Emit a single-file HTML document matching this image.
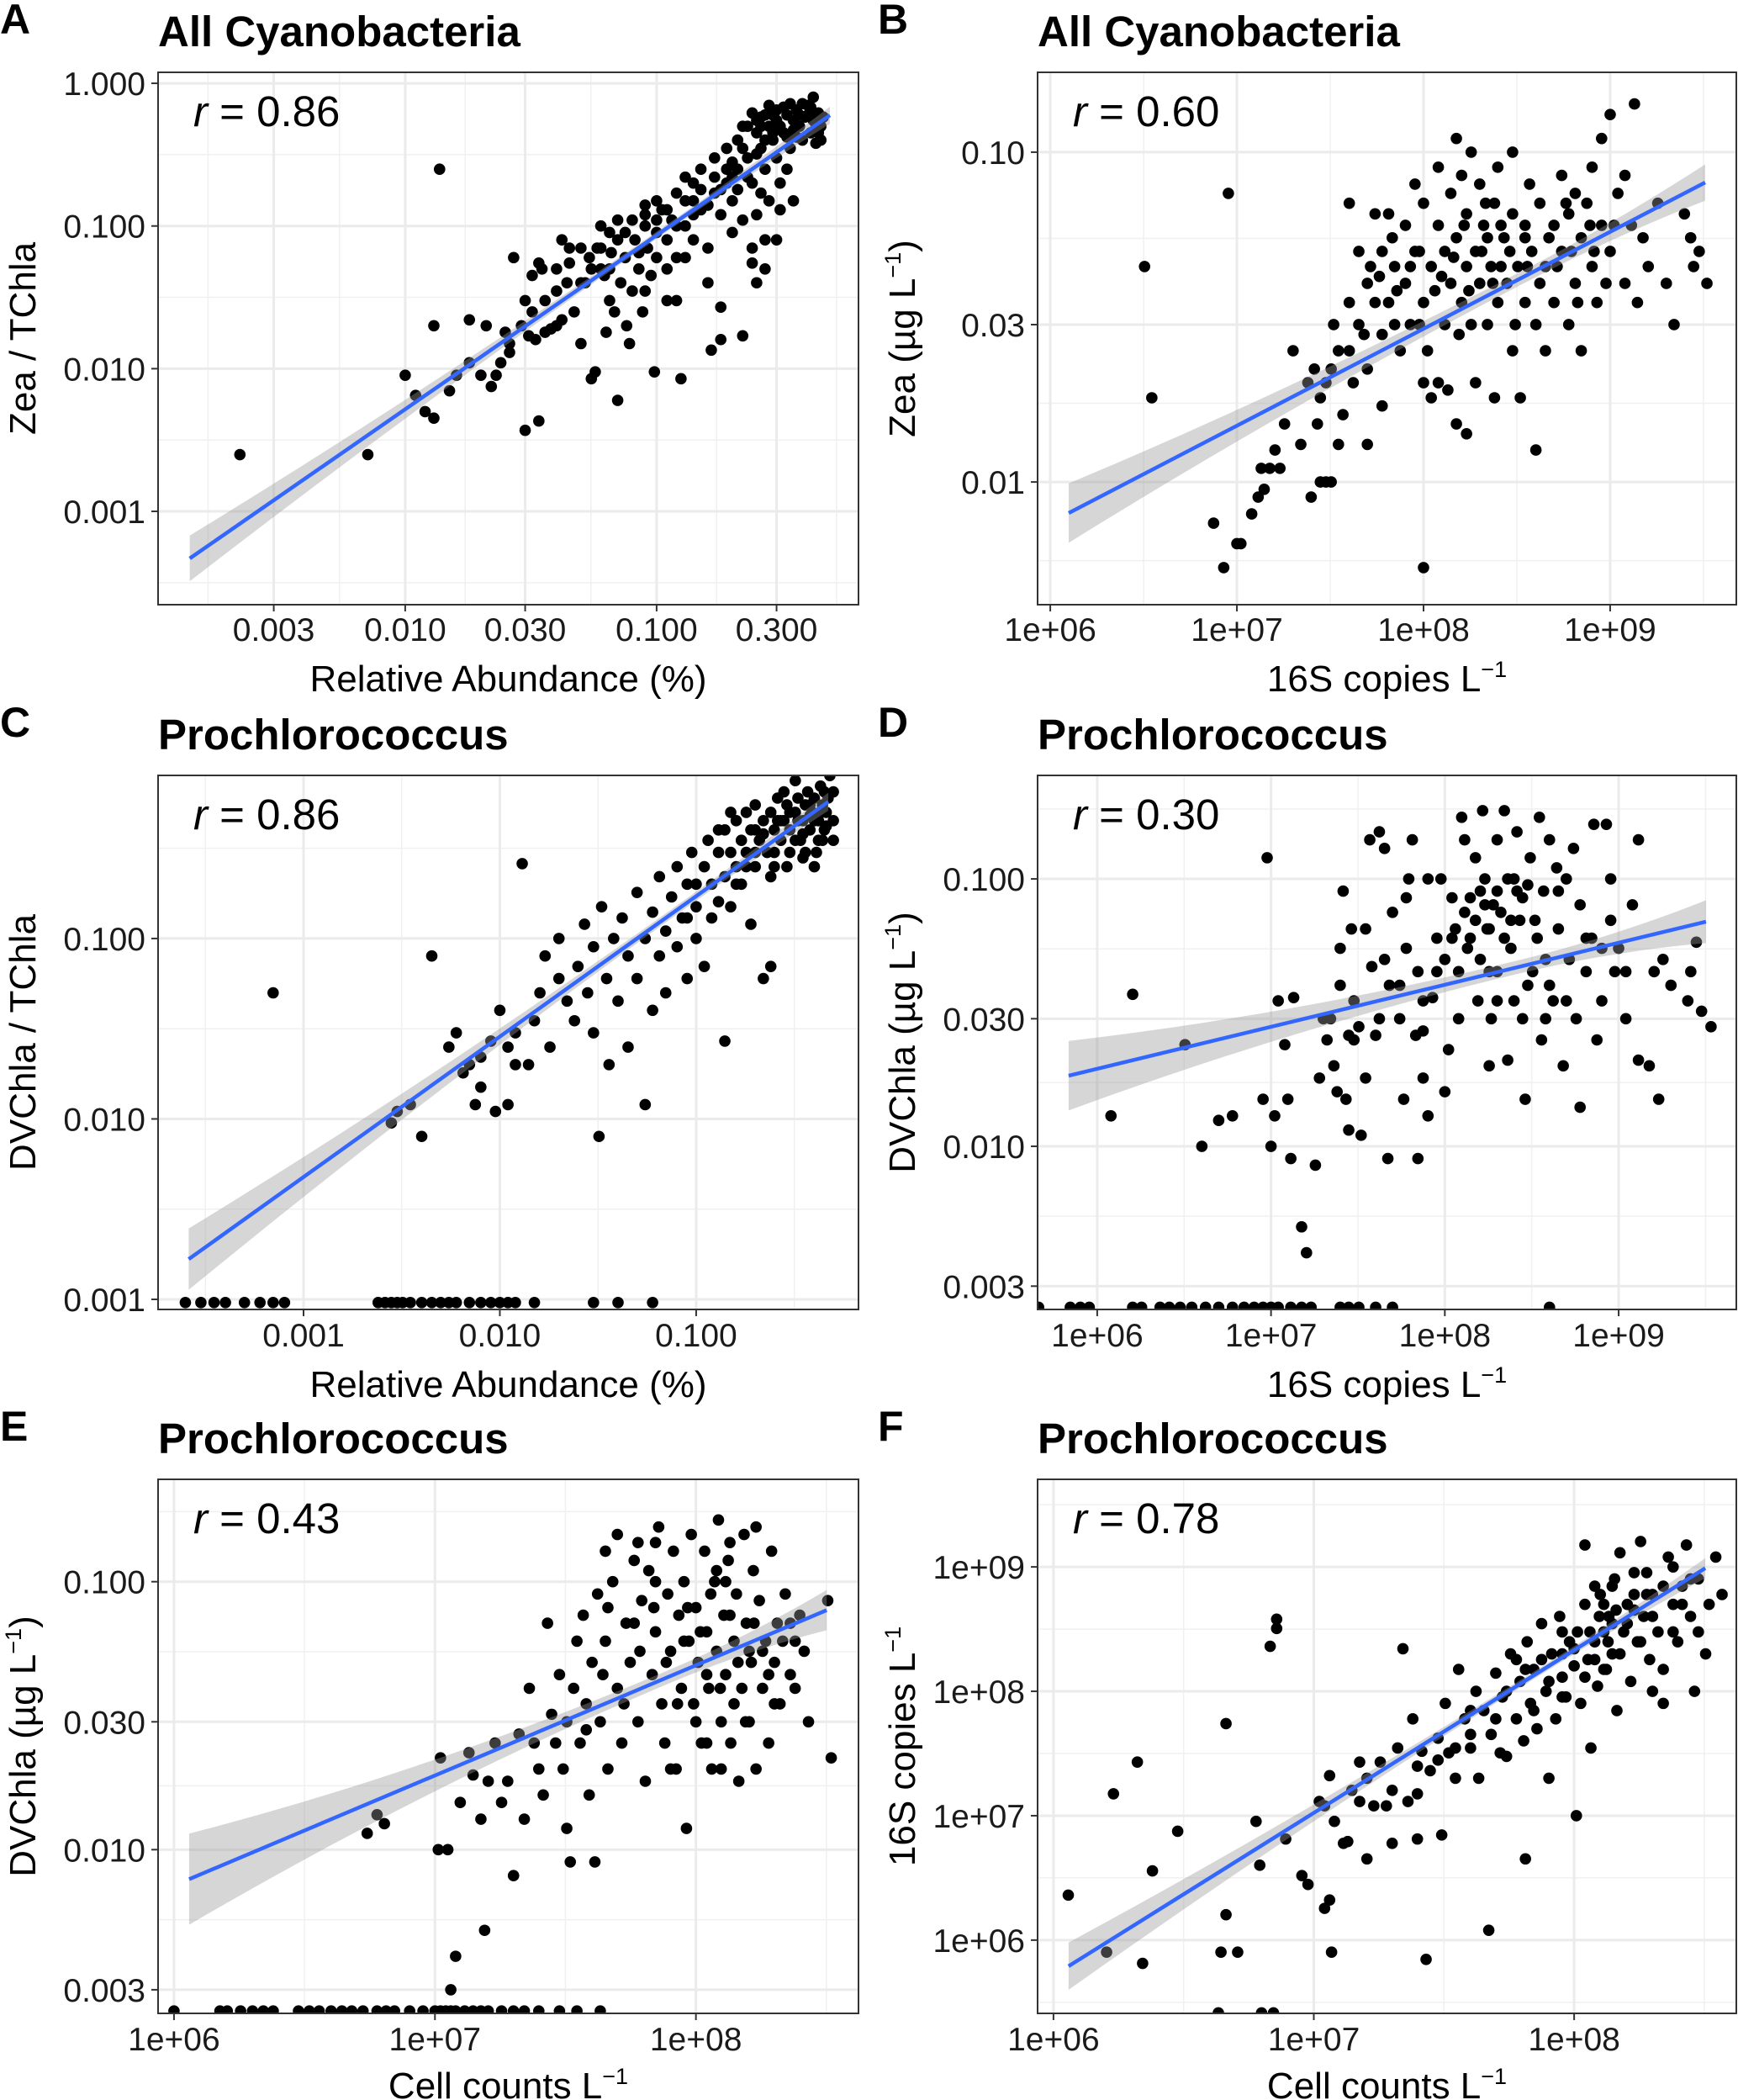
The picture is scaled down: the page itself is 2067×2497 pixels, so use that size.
<!DOCTYPE html>
<html><head><meta charset="utf-8">
<style>
html,body{margin:0;padding:0;background:#fff;}
svg{display:block;}
text{font-family:"Liberation Sans",Arial,sans-serif;}
</style></head>
<body>
<svg id="fig" width="2067" height="2497" viewBox="0 0 2067 2497" xmlns="http://www.w3.org/2000/svg"></svg>
<script>
// ---------- Panel A ----------
const aXTicks=[0.003,0.01,0.03,0.1,0.3];
const aXLabels=["0.003","0.010","0.030","0.100","0.300"];
const aYTicks=[1,0.1,0.01,0.001];
const aYLabels=["1.000","0.100","0.010","0.001"];
const aFitX=[0.00139,0.489];
const aFitY=[0.000468,0.597];
const aPts=[[0.0022,0.0025],[0.0071,0.0025],[0.0137,0.25],[0.010,0.009],[0.011,0.0065],[0.012,0.005],[0.013,0.0045],[0.015,0.007],[0.016,0.009],[0.018,0.011],[0.02,0.009],[0.022,0.0075],[0.023,0.009],[0.024,0.011],[0.025,0.018],[0.018,0.022],[0.013,0.02],[0.021,0.02],[0.026,0.015],[0.026,0.013],[0.027,0.06],[0.029,0.02],[0.03,0.03],[0.031,0.017],[0.032,0.025],[0.033,0.016],[0.032,0.045],[0.034,0.055],[0.035,0.05],[0.03,0.0037],[0.034,0.0043],[0.036,0.018],[0.038,0.019],[0.04,0.02],[0.042,0.022],[0.04,0.035],[0.042,0.08],[0.044,0.04],[0.045,0.055],[0.047,0.025],[0.05,0.07],[0.05,0.015],[0.052,0.04],[0.054,0.06],[0.055,0.0085],[0.057,0.0095],[0.058,0.07],[0.06,0.1],[0.062,0.045],[0.063,0.018],[0.065,0.03],[0.066,0.065],[0.068,0.025],[0.07,0.11],[0.07,0.006],[0.072,0.04],[0.075,0.06],[0.076,0.02],[0.078,0.015],[0.08,0.035],[0.082,0.08],[0.085,0.05],[0.088,0.025],[0.09,0.12],[0.092,0.07],[0.095,0.045],[0.098,0.0095],[0.1,0.09],[0.1,0.06],[0.105,0.13],[0.11,0.03],[0.11,0.08],[0.115,0.11],[0.12,0.06],[0.12,0.03],[0.125,0.0085],[0.13,0.15],[0.13,0.1],[0.14,0.2],[0.14,0.08],[0.15,0.25],[0.15,0.13],[0.16,0.07],[0.16,0.04],[0.165,0.0135],[0.17,0.3],[0.17,0.17],[0.18,0.12],[0.18,0.016],[0.18,0.027],[0.19,0.35],[0.19,0.2],[0.2,0.09],[0.2,0.15],[0.21,0.4],[0.21,0.25],[0.22,0.11],[0.22,0.017],[0.23,0.5],[0.23,0.3],[0.24,0.2],[0.24,0.055],[0.25,0.55],[0.25,0.45],[0.25,0.12],[0.25,0.04],[0.26,0.35],[0.27,0.6],[0.27,0.25],[0.27,0.05],[0.28,0.5],[0.28,0.15],[0.29,0.4],[0.3,0.65],[0.3,0.55],[0.3,0.3],[0.3,0.08],[0.31,0.2],[0.32,0.45],[0.33,0.6],[0.33,0.25],[0.34,0.35],[0.35,0.55],[0.35,0.15],[0.36,0.65],[0.37,0.5],[0.38,0.4],[0.4,0.7],[0.4,0.6],[0.41,0.45],[0.42,0.55],[0.43,0.38],[0.44,0.62],[0.45,0.5],[0.42,0.8],[0.38,0.72],[0.32,0.68],[0.28,0.7],[0.26,0.58],[0.35,0.47],[0.45,0.4],[0.12,0.17],[0.1,0.15],[0.09,0.14],[0.08,0.11],[0.075,0.09],[0.15,0.18],[0.2,0.28],[0.22,0.35],[0.17,0.22],[0.13,0.22],[0.11,0.13],[0.065,0.09],[0.045,0.07],[0.055,0.05],[0.06,0.07],[0.24,0.07],[0.27,0.08],[0.31,0.13],[0.26,0.17]];
const aPtsMore=[[0.22,0.5],[0.24,0.62],[0.26,0.5],[0.29,0.6],[0.31,0.5],[0.33,0.42],[0.36,0.42],[0.39,0.58],[0.41,0.68],[0.43,0.52],[0.46,0.58],[0.34,0.72],[0.29,0.45],[0.25,0.32],[0.2,0.22],[0.18,0.18],[0.16,0.14],[0.14,0.12],[0.12,0.1],[0.1,0.11],[0.09,0.1],[0.085,0.065],[0.07,0.08],[0.065,0.05],[0.06,0.05],[0.05,0.04],[0.04,0.05],[0.036,0.03],[0.14,0.15],[0.19,0.25],[0.21,0.18],[0.23,0.22],[0.27,0.4],[0.37,0.6],[0.44,0.45],[0.13,0.06],[0.11,0.05],[0.09,0.035]];

// ---------- Panel B ----------
const bXTicks=[1e6,1e7,1e8,1e9];
const bXLabels=["1e+06","1e+07","1e+08","1e+09"];
const bYTicks=[0.1,0.03,0.01];
const bYLabels=["0.10","0.03","0.01"];
const bFitX=[1.256e6,3.228e9];
const bFitY=[0.00805,0.0809];
const bPts=[[3.2e6,0.045],[3.5e6,0.018],[9e6,0.075],[7.5e6,0.0075],[8.5e6,0.0055],[1.0e7,0.0065],[1.05e7,0.0065],[1.2e7,0.008],[1.3e7,0.009],[1.4e7,0.0095],[1.35e7,0.011],[1.5e7,0.011],[1.6e7,0.0125],[1.7e7,0.011],[1.8e7,0.015],[2e7,0.025],[2.5e7,0.009],[2.7e7,0.015],[2.8e7,0.01],[3e7,0.01],[3.2e7,0.01],[2.8e7,0.018],[3e7,0.02],[3.2e7,0.022],[3.5e7,0.013],[3.5e7,0.025],[3.7e7,0.016],[4e7,0.025],[4e7,0.07],[4.2e7,0.02],[4.5e7,0.03],[4.5e7,0.05],[5e7,0.022],[5e7,0.04],[5.5e7,0.035],[5.5e7,0.065],[6e7,0.028],[6e7,0.05],[6.5e7,0.035],[6.5e7,0.065],[7e7,0.03],[7e7,0.045],[7.5e7,0.025],[8e7,0.04],[8e7,0.06],[8.5e7,0.03],[9e7,0.05],[9e7,0.08],[1e8,0.0055],[1e8,0.035],[1e8,0.07],[1.05e8,0.025],[1.1e8,0.045],[1.1e8,0.018],[1.2e8,0.06],[1.2e8,0.09],[1.2e8,0.02],[1.3e8,0.03],[1.3e8,0.05],[1.35e8,0.019],[1.4e8,0.075],[1.4e8,0.04],[1.5e8,0.11],[1.5e8,0.055],[1.5e8,0.015],[1.6e8,0.035],[1.7e8,0.065],[1.7e8,0.045],[1.8e8,0.1],[1.8e8,0.03],[1.9e8,0.05],[2e8,0.08],[2e8,0.04],[2.1e8,0.06],[2.2e8,0.03],[2.3e8,0.045],[2.4e8,0.07],[2.5e8,0.09],[2.5e8,0.035],[2.7e8,0.055],[2.8e8,0.04],[3e8,0.065],[3e8,0.1],[3e8,0.025],[3.2e8,0.045],[3.3e8,0.018],[3.5e8,0.06],[3.5e8,0.035],[3.7e8,0.08],[3.8e8,0.05],[4e8,0.03],[4e8,0.0125],[4.2e8,0.07],[4.5e8,0.045],[4.5e8,0.025],[5e8,0.06],[5e8,0.035],[5.5e8,0.085],[5.5e8,0.05],[6e8,0.03],[6e8,0.065],[6.5e8,0.04],[7e8,0.055],[7e8,0.025],[7.5e8,0.07],[8e8,0.045],[8.5e8,0.035],[9e8,0.11],[9e8,0.06],[1e9,0.05],[1e9,0.13],[1.1e9,0.075],[1.2e9,0.04],[1.3e9,0.06],[1.35e9,0.14],[1.4e9,0.035],[1.5e9,0.055],[1.6e9,0.045],[1.8e9,0.07],[2e9,0.04],[2.2e9,0.03],[2.5e9,0.065],[2.7e9,0.055],[3e9,0.05],[3.3e9,0.04],[2.8e9,0.045],[1.9e8,0.02],[2.4e8,0.018],[1.7e8,0.014],[2.6e8,0.06],[1e8,0.02],[6e7,0.017],[5e7,0.013],[2.2e7,0.013],[9.5e7,0.05],[1.6e8,0.085],[8e8,0.09],[1.2e9,0.085],[6.5e8,0.075],[3.5e8,0.055],[2.2e8,0.055]];
const bPtsMore=[[4e7,0.035],[4.8e7,0.028],[5.2e7,0.045],[5.8e7,0.042],[6.8e7,0.055],[7.2e7,0.038],[8.5e7,0.045],[9.5e7,0.03],[1.15e8,0.038],[1.25e8,0.042],[1.45e8,0.048],[1.55e8,0.028],[1.65e8,0.06],[1.75e8,0.038],[2.05e8,0.05],[2.15e8,0.07],[2.35e8,0.04],[2.6e8,0.045],[2.9e8,0.05],[3.1e8,0.03],[3.6e8,0.045],[4.2e8,0.04],[4.7e8,0.055],[5.2e8,0.045],[5.8e8,0.07],[6.2e8,0.05],[6.7e8,0.035],[7.8e8,0.06],[8.2e8,0.05],[9.5e8,0.04],[1.05e9,0.06],[2.4e7,0.02],[3.3e7,0.03],[2.6e7,0.022]];

// ---------- Panel C ----------
const cXTicks=[0.001,0.01,0.1];
const cXLabels=["0.001","0.010","0.100"];
const cYTicks=[0.1,0.01,0.001];
const cYLabels=["0.100","0.010","0.001"];
const cFitX=[0.00026,0.471];
const cFitY=[0.00167,0.573];
const cPts=[[0.00025,0.00096],[0.0003,0.00096],[0.00035,0.00096],[0.0004,0.00096],[0.0005,0.00096],[0.0006,0.00096],[0.0007,0.00096],[0.0008,0.00096],[0.0024,0.00096],[0.0026,0.00096],[0.0028,0.00096],[0.003,0.00096],[0.0032,0.00096],[0.0035,0.00096],[0.004,0.00096],[0.0045,0.00096],[0.005,0.00096],[0.0055,0.00096],[0.006,0.00096],[0.007,0.00096],[0.008,0.00096],[0.009,0.00096],[0.01,0.00096],[0.011,0.00096],[0.012,0.00096],[0.015,0.00096],[0.03,0.00096],[0.04,0.00096],[0.06,0.00096],
[0.0007,0.05],[0.003,0.011],[0.0028,0.0095],[0.0035,0.012],[0.004,0.008],[0.0045,0.08],[0.0055,0.025],[0.006,0.03],[0.0065,0.018],[0.007,0.02],[0.0075,0.012],[0.008,0.022],[0.008,0.015],[0.009,0.027],[0.0095,0.011],[0.01,0.04],[0.011,0.012],[0.011,0.025],[0.012,0.03],[0.012,0.02],[0.013,0.26],[0.014,0.02],[0.015,0.035],[0.016,0.05],[0.017,0.08],[0.018,0.025],[0.02,0.1],[0.02,0.06],[0.022,0.045],[0.024,0.035],[0.025,0.07],[0.027,0.12],[0.028,0.05],[0.03,0.03],[0.03,0.09],[0.032,0.008],[0.033,0.15],[0.035,0.06],[0.036,0.02],[0.038,0.1],[0.04,0.045],[0.042,0.13],[0.045,0.08],[0.045,0.025],[0.05,0.18],[0.05,0.06],[0.055,0.012],[0.055,0.1],[0.06,0.04],[0.06,0.14],[0.065,0.22],[0.065,0.08],[0.07,0.11],[0.07,0.05],[0.075,0.17],[0.08,0.25],[0.08,0.09],[0.085,0.13],[0.09,0.2],[0.09,0.06],[0.095,0.3],[0.1,0.15],[0.1,0.1],[0.11,0.25],[0.11,0.07],[0.115,0.35],[0.12,0.2],[0.12,0.13],[0.13,0.3],[0.13,0.16],[0.14,0.4],[0.14,0.027],[0.14,0.22],[0.15,0.3],[0.15,0.15],[0.16,0.45],[0.16,0.25],[0.17,0.35],[0.17,0.2],[0.18,0.5],[0.18,0.3],[0.19,0.12],[0.19,0.4],[0.2,0.25],[0.2,0.55],[0.21,0.35],[0.22,0.45],[0.22,0.06],[0.23,0.3],[0.24,0.5],[0.24,0.07],[0.25,0.4],[0.25,0.25],[0.26,0.6],[0.27,0.35],[0.28,0.45],[0.29,0.55],[0.3,0.3],[0.3,0.4],[0.32,0.5],[0.33,0.6],[0.34,0.35],[0.35,0.45],[0.36,0.55],[0.37,0.65],[0.38,0.4],[0.39,0.5],[0.4,0.6],[0.41,0.3],[0.42,0.45],[0.43,0.7],[0.44,0.55],[0.45,0.4],[0.46,0.5],[0.47,0.6],[0.48,0.8],[0.5,0.45],[0.5,0.65],[0.26,0.45],[0.2,0.4],[0.15,0.5],[0.13,0.4],[0.1,0.2],[0.09,0.13],[0.28,0.65],[0.32,0.75],[0.38,0.55],[0.42,0.35],[0.35,0.28],[0.45,0.65]];
const cPtsMore=[[0.2,0.3],[0.22,0.38],[0.25,0.3],[0.27,0.45],[0.3,0.5],[0.32,0.35],[0.35,0.38],[0.38,0.48],[0.4,0.45],[0.43,0.5],[0.46,0.42],[0.18,0.25],[0.16,0.2],[0.24,0.22],[0.29,0.25],[0.36,0.3],[0.44,0.35],[0.4,0.25],[0.5,0.35],[0.33,0.45]];

// ---------- Panel D ----------
const dXTicks=[1e6,1e7,1e8,1e9];
const dXLabels=["1e+06","1e+07","1e+08","1e+09"];
const dYTicks=[0.1,0.03,0.01,0.003];
const dYLabels=["0.100","0.030","0.010","0.003"];
const dFitX=[6.85e5,3.18e9];
const dFitY=[0.01837,0.0692];
const dPts=[[4.6e5,0.0025],[7e5,0.0025],[8e5,0.0025],[9e5,0.0025],[1.6e6,0.0025],[1.8e6,0.0025],[2.3e6,0.0025],[2.6e6,0.0025],[3e6,0.0025],[3.5e6,0.0025],[4.2e6,0.0025],[5e6,0.0025],[6e6,0.0025],[7e6,0.0025],[8e6,0.0025],[9e6,0.0025],[1e7,0.0025],[1.1e7,0.0025],[1.3e7,0.0025],[1.5e7,0.0025],[1.7e7,0.0025],[2.5e7,0.0025],[2.8e7,0.0025],[3.2e7,0.0025],[4e7,0.0025],[5e7,0.0025],[4e8,0.0025],
[1.6e6,0.037],[1.2e6,0.013],[3.2e6,0.024],[4e6,0.01],[5e6,0.0125],[6e6,0.013],[9e6,0.015],[9.5e6,0.12],[1e7,0.01],[1.05e7,0.013],[1.1e7,0.035],[1.2e7,0.024],[1.25e7,0.015],[1.3e7,0.009],[1.35e7,0.036],[1.5e7,0.005],[1.6e7,0.004],[1.8e7,0.0085],[1.9e7,0.018],[2e7,0.03],[2.1e7,0.025],[2.3e7,0.02],[2.4e7,0.016],[2.5e7,0.04],[2.5e7,0.055],[2.6e7,0.09],[2.7e7,0.015],[2.8e7,0.0115],[2.8e7,0.026],[2.9e7,0.065],[3e7,0.035],[3.2e7,0.028],[3.3e7,0.011],[3.5e7,0.018],[3.5e7,0.065],[3.7e7,0.14],[3.8e7,0.047],[4e7,0.026],[4.2e7,0.15],[4.5e7,0.13],[4.7e7,0.009],[4.8e7,0.04],[5e7,0.075],[5.5e7,0.03],[5.8e7,0.015],[6e7,0.055],[6e7,0.085],[6.2e7,0.1],[6.5e7,0.14],[7e7,0.045],[7e7,0.009],[7.5e7,0.027],[7.5e7,0.018],[8e7,0.1],[8e7,0.013],[8.5e7,0.036],[9e7,0.06],[9.5e7,0.1],[1e8,0.05],[1e8,0.016],[1.05e8,0.023],[1.1e8,0.085],[1.15e8,0.065],[1.2e8,0.03],[1.25e8,0.17],[1.3e8,0.14],[1.35e8,0.055],[1.4e8,0.085],[1.5e8,0.12],[1.55e8,0.035],[1.6e8,0.05],[1.65e8,0.18],[1.7e8,0.1],[1.75e8,0.065],[1.8e8,0.02],[1.85e8,0.03],[1.9e8,0.08],[2e8,0.045],[2e8,0.14],[2.1e8,0.075],[2.2e8,0.18],[2.3e8,0.1],[2.3e8,0.021],[2.4e8,0.055],[2.5e8,0.035],[2.6e8,0.15],[2.7e8,0.07],[2.8e8,0.03],[2.9e8,0.015],[3e8,0.095],[3.1e8,0.12],[3.2e8,0.045],[3.3e8,0.07],[3.5e8,0.17],[3.6e8,0.025],[3.7e8,0.09],[3.8e8,0.05],[4e8,0.14],[4.2e8,0.035],[4.4e8,0.11],[4.5e8,0.065],[4.8e8,0.02],[5e8,0.1],[5.2e8,0.05],[5.5e8,0.13],[5.7e8,0.03],[6e8,0.08],[6e8,0.014],[6.5e8,0.045],[7e8,0.06],[7.2e8,0.16],[7.5e8,0.025],[8e8,0.035],[8.5e8,0.16],[9e8,0.1],[9.5e8,0.045],[1e9,0.055],[1.1e9,0.03],[1.2e9,0.08],[1.3e9,0.14],[1.3e9,0.021],[1.5e9,0.02],[1.7e9,0.015],[1.8e9,0.05],[2e9,0.04],[2.5e9,0.035],[2.8e9,0.058],[3.4e9,0.028],[2.6e9,0.045],[3e9,0.032],[1.6e9,0.045],[2.2e8,0.06],[1.2e8,0.045],[2.6e8,0.09],[4.5e7,0.05],[9e8,0.07],[3.8e8,0.03],[6.8e7,0.026]];
const dPtsMore=[[1.1e8,0.06],[1.3e8,0.075],[1.5e8,0.07],[1.7e8,0.08],[1.8e8,0.065],[2e8,0.09],[1.6e8,0.09],[1.4e8,0.06],[2.4e8,0.07],[2.8e8,0.085],[3.4e8,0.06],[4e8,0.04],[5e8,0.035],[6.5e8,0.06],[8e8,0.055],[1.1e9,0.045],[9e7,0.045],[7.5e7,0.035],[5.5e7,0.04],[3e7,0.025],[2.2e7,0.03],[4.2e7,0.03],[2e8,0.035],[3e8,0.04],[1.8e8,0.045],[2.5e8,0.1],[4.5e8,0.09]];

// ---------- Panel E ----------
const eXTicks=[1e6,1e7,1e8];
const eXLabels=["1e+06","1e+07","1e+08"];
const eYTicks=[0.1,0.03,0.01,0.003];
const eYLabels=["0.100","0.030","0.010","0.003"];
const eFitX=[1.143e6,3.17e8];
const eFitY=[0.00776,0.0783];
const ePts=[[1e6,0.0025],[1.5e6,0.0025],[1.6e6,0.0025],[1.8e6,0.0025],[2e6,0.0025],[2.2e6,0.0025],[2.4e6,0.0025],[3e6,0.0025],[3.3e6,0.0025],[3.6e6,0.0025],[4e6,0.0025],[4.4e6,0.0025],[4.8e6,0.0025],[5.3e6,0.0025],[6e6,0.0025],[6.5e6,0.0025],[7e6,0.0025],[8e6,0.0025],[9e6,0.0025],[1e7,0.0025],[1.05e7,0.0025],[1.1e7,0.0025],[1.15e7,0.0025],[1.2e7,0.0025],[1.3e7,0.0025],[1.4e7,0.0025],[1.5e7,0.0025],[1.6e7,0.0025],[1.8e7,0.0025],[2e7,0.0025],[2.2e7,0.0025],[2.5e7,0.0025],[3e7,0.0025],[3.5e7,0.0025],[4.3e7,0.0025],
[5.5e6,0.0115],[6e6,0.0135],[6.4e6,0.0125],[1.05e7,0.022],[1.03e7,0.01],[1.15e7,0.003],[1.2e7,0.004],[1.12e7,0.01],[1.25e7,0.015],[1.35e7,0.023],[1.4e7,0.019],[1.5e7,0.013],[1.55e7,0.005],[1.6e7,0.018],[1.7e7,0.025],[1.8e7,0.015],[1.9e7,0.018],[2e7,0.008],[2.1e7,0.027],[2.2e7,0.013],[2.3e7,0.04],[2.4e7,0.025],[2.5e7,0.02],[2.6e7,0.016],[2.7e7,0.07],[2.8e7,0.032],[2.9e7,0.025],[3e7,0.045],[3.1e7,0.02],[3.2e7,0.012],[3.3e7,0.009],[3.4e7,0.04],[3.5e7,0.06],[3.6e7,0.025],[3.7e7,0.075],[3.8e7,0.035],[3.9e7,0.016],[4e7,0.05],[4.1e7,0.009],[4.2e7,0.09],[4.3e7,0.03],[4.5e7,0.06],[4.6e7,0.02],[4.8e7,0.1],[5e7,0.04],[5e7,0.15],[5.2e7,0.025],[5.4e7,0.07],[5.6e7,0.05],[5.8e7,0.12],[6e7,0.03],[6.2e7,0.085],[6.4e7,0.018],[6.6e7,0.11],[6.8e7,0.045],[7e7,0.065],[7.2e7,0.16],[7.4e7,0.035],[7.6e7,0.025],[7.8e7,0.09],[8e7,0.055],[8.2e7,0.13],[8.4e7,0.02],[8.6e7,0.075],[8.8e7,0.04],[9e7,0.1],[9.2e7,0.012],[9.4e7,0.06],[9.6e7,0.15],[9.8e7,0.035],[1e8,0.08],[1.02e8,0.05],[1.05e8,0.025],[1.08e8,0.13],[1.1e8,0.065],[1.12e8,0.04],[1.15e8,0.02],[1.18e8,0.1],[1.2e8,0.055],[1.22e8,0.17],[1.25e8,0.03],[1.28e8,0.075],[1.3e8,0.045],[1.33e8,0.12],[1.36e8,0.025],[1.4e8,0.06],[1.43e8,0.09],[1.46e8,0.018],[1.5e8,0.04],[1.53e8,0.15],[1.56e8,0.07],[1.6e8,0.03],[1.63e8,0.05],[1.66e8,0.11],[1.7e8,0.02],[1.75e8,0.085],[1.8e8,0.04],[1.85e8,0.06],[1.9e8,0.025],[1.95e8,0.13],[2e8,0.05],[2.05e8,0.07],[2.1e8,0.035],[2.2e8,0.09],[2.3e8,0.045],[2.4e8,0.06],[2.5e8,0.075],[2.6e8,0.055],[2.7e8,0.03],[3.2e8,0.085],[3.3e8,0.022],[7e7,0.14],[6e7,0.14],[1.4e8,0.035],[1.1e8,0.025],[8e7,0.02],[4.5e7,0.13],[1.6e8,0.055],[1.3e8,0.1]];
const ePtsMore=[[4.4e7,0.045],[5.3e7,0.035],[6.1e7,0.055],[6.9e7,0.08],[7.7e7,0.05],[8.5e7,0.035],[9.3e7,0.08],[1.04e8,0.065],[1.14e8,0.09],[1.24e8,0.04],[1.35e8,0.075],[1.45e8,0.05],[1.55e8,0.03],[1.67e8,0.07],[1.8e8,0.055],[1.9e8,0.045],[2e8,0.035],[2.15e8,0.06],[2.3e8,0.07],[2.4e8,0.04],[1e8,0.03],[1.1e8,0.045],[1.2e8,0.11],[9e7,0.06],[7e7,0.1],[5.8e7,0.07],[4.6e7,0.08],[1.35e8,0.14],[1.7e8,0.16],[1.25e8,0.02],[3.8e7,0.028],[3.2e7,0.03]];

// ---------- Panel F ----------
const fXTicks=[1e6,1e7,1e8];
const fXLabels=["1e+06","1e+07","1e+08"];
const fYTicks=[1e9,1e8,1e7,1e6];
const fYLabels=["1e+09","1e+08","1e+07","1e+06"];
const fFitX=[1.143e6,3.19e8];
const fFitY=[6.17e5,9.77e8];
const fPts=[[1.14e6,2.3e6],[1.6e6,8e5],[1.7e6,1.5e7],[2.1e6,2.7e7],[2.2e6,6.5e5],[2.4e6,3.6e6],[3.0e6,7.5e6],[4.6e6,5.5e7],[4.6e6,1.6e6],[4.3e6,2.6e5],[4.4e6,8e5],[5.1e6,8e5],[6.0e6,9e6],[6.3e6,2.6e5],[6.2e6,4e6],[7e6,2.6e5],[6.8e6,2.3e8],[7.2e6,3.2e8],[7.2e6,3.8e8],[7.8e6,6.5e6],[9e6,3.3e6],[9.5e6,2.8e6],[1.1e7,1.8e6],[1.1e7,1.2e7],[1.05e7,1.3e7],[1.15e7,2.1e6],[1.17e7,8e5],[1.2e7,9e6],[1.15e7,2.1e7],[1.3e7,6e6],[1.35e7,6.2e6],[1.4e7,1.6e7],[1.5e7,2.7e7],[1.5e7,1.3e7],[1.6e7,4.5e6],[1.7e7,1.2e7],[1.8e7,2.7e7],[1.9e7,1.2e7],[2e7,6e6],[2.1e7,3.5e7],[2.2e7,2.2e8],[2.3e7,1.3e7],[2.4e7,6e7],[2.5e7,1.5e7],[2.5e7,6.5e6],[2.6e7,3.3e7],[2.7e7,7e5],[2.8e7,2.3e7],[3e7,4.2e7],[3.1e7,7e6],[3.2e7,8e7],[3.3e7,3.2e7],[3.5e7,2e7],[3.6e7,1.5e8],[3.8e7,6e7],[4e7,3.5e7],[4.2e7,1e8],[4.3e7,2e7],[4.5e7,7e7],[4.7e7,1.2e6],[4.8e7,4.5e7],[5e7,1.4e8],[5.2e7,3.2e7],[5.3e7,9e7],[5.5e7,3e7],[5.7e7,2e8],[6e7,6e7],[6.2e7,1.2e8],[6.4e7,4e7],[6.6e7,2.5e8],[6.8e7,8e7],[6.5e7,4.5e6],[7e7,1.5e8],[7.2e7,5e7],[7.5e7,3.5e8],[7.8e7,1e8],[8e7,2e7],[8.2e7,2e8],[8.5e7,6e7],[8.8e7,4e8],[9e7,1.3e8],[9.3e7,9e7],[9.6e7,2.5e8],[1.02e8,1e7],[1e8,1.6e8],[1.03e8,3e8],[1.06e8,8e7],[1.1e8,5e8],[1.13e8,1.8e8],[1.16e8,3.5e7],[1.2e8,2.5e8],[1.23e8,1.1e8],[1.26e8,6e8],[1.3e8,3e8],[1.33e8,1.5e8],[1.36e8,4e8],[1.4e8,2e8],[1.43e8,8e8],[1.46e8,7e7],[1.5e8,1.3e9],[1.55e8,3e8],[1.6e8,5e8],[1.65e8,1.2e8],[1.7e8,6e8],[1.75e8,2.5e8],[1.8e8,1.6e9],[1.85e8,4e8],[1.9e8,9e8],[1.95e8,1.8e8],[2e8,6e8],[2.1e8,3e8],[2.2e8,8e7],[2.3e8,1.2e9],[2.4e8,5e8],[2.5e8,2.5e8],[2.6e8,7e8],[2.7e8,1.5e9],[2.8e8,4e8],[2.9e8,1e8],[3e8,8e8],[3.2e8,2e8],[3.3e8,5e8],[3.5e8,1.2e9],[3.7e8,6e8],[2.4e8,1e9],[1.2e8,7e8],[1.7e8,9e8],[6e7,1.8e8],[9e7,3e8],[4e7,7e7],[1.4e8,3.5e8],[2e8,1e8],[3e8,3e8],[1.1e8,1.5e9],[1.3e8,1.5e8]];
const fPtsMore=[[5.5e7,1e8],[6.5e7,1.5e8],[7.5e7,1.8e8],[8e7,1.2e8],[9e7,2e8],[1e8,2.2e8],[1.1e8,1.3e8],[1.15e8,3e8],[1.25e8,4e8],[1.35e8,2.5e8],[1.45e8,4.5e8],[1.5e8,2e8],[1.6e8,3.5e8],[1.7e8,4.5e8],[1.8e8,2.5e8],[1.9e8,6e8],[2e8,4e8],[2.2e8,7e8],[2.4e8,3e8],[2.6e8,5e8],[2.8e8,8e8],[1.3e8,5e8],[1.4e8,7e8],[1.2e8,1.8e8],[9e7,9e7],[7e7,7e7],[5e7,6e7],[4e7,4.5e7],[3.5e7,3.5e7],[3e7,2.8e7],[2.5e7,2.5e7],[2e7,1.6e7],[1.6e7,2e7],[2.2e8,1.5e8]];

const NS="http://www.w3.org/2000/svg";
const svg=document.getElementById('fig');
function mk(tag,attrs,parent){const e=document.createElementNS(NS,tag);for(const k in attrs)e.setAttribute(k,attrs[k]);(parent||svg).appendChild(e);return e;}
const L=Math.log10;

function panel(cfg){
  const g=mk('g',{});
  
  
  const [x0,y0,x1,y1]=cfg.box;
  const sx=v=>x0+(L(v)-cfg.xd[0])/(cfg.xd[1]-cfg.xd[0])*(x1-x0);
  const sy=v=>y1-(L(v)-cfg.yd[0])/(cfg.yd[1]-cfg.yd[0])*(y1-y0);
  const clipId='clip-'+cfg.name;
  const cp=mk('clipPath',{id:clipId},g);mk('rect',{x:x0,y:y0,width:x1-x0,height:y1-y0},cp);
  mk('rect',{x:x0,y:y0,width:x1-x0,height:y1-y0,fill:'#fff'},g);
  function minors(ticks,dom){const l=ticks.map(L).sort((a,b)=>a-b);const r=[];for(let i=0;i<l.length-1;i++)r.push((l[i]+l[i+1])/2);
    const s0=l[1]-l[0],s1=l[l.length-1]-l[l.length-2];r.push(l[0]-s0/2);r.push(l[l.length-1]+s1/2);return r.filter(v=>v>dom[0]&&v<dom[1]);}
  minors(cfg.xt,cfg.xd).forEach(v=>{const x=sx(Math.pow(10,v));const ln=mk('line',{x1:x,x2:x,y1:y0,y2:y1,stroke:'#f0f0f0','stroke-width':1.5},g);
    });
  minors(cfg.yt,cfg.yd).forEach(v=>{const y=sy(Math.pow(10,v));const ln=mk('line',{x1:x0,x2:x1,y1:y,y2:y,stroke:'#f0f0f0','stroke-width':1.5},g);
    });
  cfg.xt.forEach((v,i)=>{const x=sx(v);
    const ln=mk('line',{x1:x,x2:x,y1:y0,y2:y1,stroke:'#ebebeb','stroke-width':3},g);
    
    mk('line',{x1:x,x2:x,y1:y1,y2:y1+8,stroke:'#333','stroke-width':2},g);
    const t=mk('text',{x:x,y:cfg.xtickY,'text-anchor':'middle','font-size':39,fill:'#1a1a1a'},g);t.textContent=cfg.xl[i];
    });
  cfg.yt.forEach((v,i)=>{const y=sy(v);
    const ln=mk('line',{x1:x0,x2:x1,y1:y,y2:y,stroke:'#ebebeb','stroke-width':3},g);
    
    mk('line',{x1:x0-8,x2:x0,y1:y,y2:y,stroke:'#333','stroke-width':2},g);
    const t=mk('text',{x:x0-15,y:y+14,'text-anchor':'end','font-size':39,fill:'#1a1a1a'},g);t.textContent=cfg.yl[i];
    });
  const pg=mk('g',{'clip-path':'url(#'+clipId+')'},g);
  cfg.pts.forEach(p=>{const c=mk('circle',{cx:sx(p[0]),cy:sy(p[1]),r:6.8,fill:'#000'},pg);
    });
  const lx0=L(cfg.fx[0]),lx1=L(cfg.fx[1]),ly0=L(cfg.fy[0]),ly1=L(cfg.fy[1]);
  const up=[],lo=[],N=40,tm=cfg.bw[3];
  for(let i=0;i<=N;i++){const t=i/N;const lx=lx0+(lx1-lx0)*t,ly=ly0+(ly1-ly0)*t;
    const h=t<tm?cfg.bw[1]+(cfg.bw[0]-cfg.bw[1])*Math.pow((tm-t)/tm,2):cfg.bw[1]+(cfg.bw[2]-cfg.bw[1])*Math.pow((t-tm)/(1-tm),2);
    const X=sx(Math.pow(10,lx));up.push(X+','+sy(Math.pow(10,ly+h)));lo.unshift(X+','+sy(Math.pow(10,ly-h)));}
  const band=mk('polygon',{points:up.concat(lo).join(' '),fill:'#999999','fill-opacity':0.4},pg);
  
  const fl=mk('line',{x1:sx(cfg.fx[0]),y1:sy(cfg.fy[0]),x2:sx(cfg.fx[1]),y2:sy(cfg.fy[1]),stroke:'#3366FF','stroke-width':4.5},pg);
  
  const fr=mk('rect',{x:x0,y:y0,width:x1-x0,height:y1-y0,fill:'none',stroke:'#333','stroke-width':2},g);
  
  const rt=mk('text',{x:x0+42,y:y0+64,'font-size':51,fill:'#000'},g);
  
  const ri=mk('tspan',{'font-style':'italic'},rt);ri.textContent='r';
  const rv=mk('tspan',{},rt);rv.textContent=' = '+cfg.r;
  const tt=mk('text',{x:x0,y:y0-31,'font-size':51,'font-weight':'bold',fill:'#000'},g);tt.textContent=cfg.title;
  
  const lt=mk('text',{x:cfg.letterX,y:y0-46,'font-size':50,'font-weight':'bold',fill:'#000'},g);lt.textContent=cfg.letter;
  
  const xt=mk('text',{x:(x0+x1)/2,y:cfg.xtitleY,'text-anchor':'middle','font-size':44,fill:'#000'},g);
  
  cfg.xtitle.forEach(s=>{const ts=mk('tspan',s[1]?{'font-size':27,dy:-17}:{dy:s[2]||0},xt);ts.textContent=s[0];});
  const cy=(y0+y1)/2;
  const yt=mk('text',{x:cfg.ytitleX,y:cy,'text-anchor':'middle','font-size':44,fill:'#000',transform:'rotate(-90 '+cfg.ytitleX+' '+cy+')'},g);
  
  cfg.ytitle.forEach(s=>{const ts=mk('tspan',s[1]?{'font-size':27,dy:-17}:{dy:s[2]||0},yt);ts.textContent=s[0];});
}

const RA=[["Relative Abundance (%)"]];
const S16=[["16S copies L"],["\u22121",1],["",0,17]];
const CC=[["Cell counts L"],["\u22121",1],["",0,17]];
const UG=(n)=>[[n+" (\u00b5g L"],["\u22121",1],[")",0,17]];

panel({name:'panel-a',box:[188,86,1021,719],xd:[-2.983,-0.197],yd:[-3.654,0.077],xt:aXTicks,xl:aXLabels,yt:aYTicks,yl:aYLabels,pts:aPts.concat(aPtsMore),fx:aFitX,fy:aFitY,bw:[0.16,0.025,0.06,0.75],r:'0.86',title:'All Cyanobacteria',letter:'A',letterX:0,xtickY:762,xtitleY:822,xtitle:RA,ytitleX:42,ytitle:[["Zea / TChla"]]});
panel({name:'panel-b',box:[1234,86,2065,719],xd:[5.932,9.676],yd:[-2.372,-0.758],xt:bXTicks,xl:bXLabels,yt:bYTicks,yl:bYLabels,pts:bPts.concat(bPtsMore),fx:bFitX,fy:bFitY,bw:[0.09,0.02,0.055,0.72],r:'0.60',title:'All Cyanobacteria',letter:'B',letterX:1044,xtickY:762,xtitleY:822,xtitle:S16,ytitleX:1088,ytitle:UG('Zea')});
panel({name:'panel-c',box:[188,922,1021,1557],xd:[-3.741,-0.173],yd:[-3.056,-0.096],xt:cXTicks,xl:cXLabels,yt:cYTicks,yl:cYLabels,pts:cPts.concat(cPtsMore),fx:cFitX,fy:cFitY,bw:[0.17,0.025,0.05,0.78],r:'0.86',title:'Prochlorococcus',letter:'C',letterX:0,xtickY:1601,xtitleY:1661,xtitle:RA,ytitleX:42,ytitle:[["DVChla / TChla"]]});
panel({name:'panel-d',box:[1234,922,2065,1557],xd:[5.657,9.677],yd:[-2.61,-0.613],xt:dXTicks,xl:dXLabels,yt:dYTicks,yl:dYLabels,pts:dPts.concat(dPtsMore),fx:dFitX,fy:dFitY,bw:[0.13,0.025,0.08,0.7],r:'0.30',title:'Prochlorococcus',letter:'D',letterX:1044,xtickY:1601,xtitleY:1661,xtitle:S16,ytitleX:1088,ytitle:UG('DVChla')});
panel({name:'panel-e',box:[188,1759,1021,2394],xd:[5.939,8.623],yd:[-2.611,-0.618],xt:eXTicks,xl:eXLabels,yt:eYTicks,yl:eYLabels,pts:ePts.concat(ePtsMore),fx:eFitX,fy:eFitY,bw:[0.17,0.025,0.075,0.75],r:'0.43',title:'Prochlorococcus',letter:'E',letterX:0,xtickY:2438,xtitleY:2495,xtitle:CC,ytitleX:42,ytitle:UG('DVChla')});
panel({name:'panel-f',box:[1234,1759,2065,2394],xd:[5.939,8.623],yd:[5.411,9.704],xt:fXTicks,xl:fXLabels,yt:fYTicks,yl:fYLabels,pts:fPts.concat(fPtsMore),fx:fFitX,fy:fFitY,bw:[0.19,0.03,0.08,0.75],r:'0.78',title:'Prochlorococcus',letter:'F',letterX:1044,xtickY:2438,xtitleY:2495,xtitle:CC,ytitleX:1088,ytitle:[["16S copies L"],["\u22121",1],["",0,17]]});
</script>
</body></html>
